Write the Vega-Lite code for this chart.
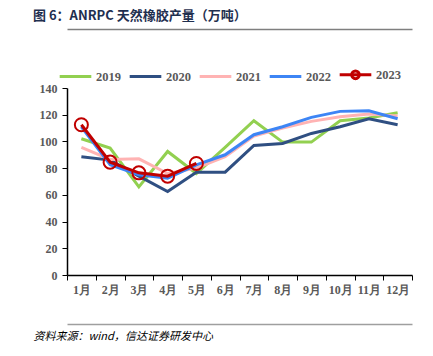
{
  "$schema": "https://vega.github.io/schema/vega-lite/v6.json",
  "width": 345,
  "height": 187,
  "autosize": {"type": "none"},
  "padding": {"left": 67, "top": 88, "right": 21, "bottom": 81},
  "background": "white",
  "title": {
    "text": "图 6：ANRPC 天然橡胶产量（万吨）",
    "anchor": "start",
    "frame": "group",
    "dx": -34,
    "offset": 6,
    "font": "Noto Sans CJK SC",
    "fontSize": 13,
    "fontWeight": "bold",
    "color": "#1F2F4F"
  },
  "config": {
    "view": {"stroke": null},
    "axis": {"grid": false, "labelFont": "Liberation Serif", "labelFontWeight": "bold", "labelFontSize": 12, "labelColor": "#595959", "labelOverlap": false}
  },
  "data": {
    "values": [
      {"m": "1月", "year": "2019", "v": 102},
      {"m": "2月", "year": "2019", "v": 95},
      {"m": "3月", "year": "2019", "v": 66},
      {"m": "4月", "year": "2019", "v": 92.5},
      {"m": "5月", "year": "2019", "v": 76},
      {"m": "6月", "year": "2019", "v": 95.5},
      {"m": "7月", "year": "2019", "v": 115.5},
      {"m": "8月", "year": "2019", "v": 99.5},
      {"m": "9月", "year": "2019", "v": 99.5},
      {"m": "10月", "year": "2019", "v": 115.5},
      {"m": "11月", "year": "2019", "v": 117.5},
      {"m": "12月", "year": "2019", "v": 121.5},
      {"m": "1月", "year": "2020", "v": 88.5},
      {"m": "2月", "year": "2020", "v": 86},
      {"m": "3月", "year": "2020", "v": 74},
      {"m": "4月", "year": "2020", "v": 62.5},
      {"m": "5月", "year": "2020", "v": 77},
      {"m": "6月", "year": "2020", "v": 77},
      {"m": "7月", "year": "2020", "v": 97},
      {"m": "8月", "year": "2020", "v": 98.5},
      {"m": "9月", "year": "2020", "v": 106},
      {"m": "10月", "year": "2020", "v": 111},
      {"m": "11月", "year": "2020", "v": 117},
      {"m": "12月", "year": "2020", "v": 112.5},
      {"m": "1月", "year": "2021", "v": 95.5},
      {"m": "2月", "year": "2021", "v": 86.5},
      {"m": "3月", "year": "2021", "v": 87},
      {"m": "4月", "year": "2021", "v": 76},
      {"m": "5月", "year": "2021", "v": 80},
      {"m": "6月", "year": "2021", "v": 88.5},
      {"m": "7月", "year": "2021", "v": 104},
      {"m": "8月", "year": "2021", "v": 110},
      {"m": "9月", "year": "2021", "v": 115},
      {"m": "10月", "year": "2021", "v": 118.5},
      {"m": "11月", "year": "2021", "v": 120.5},
      {"m": "12月", "year": "2021", "v": 119},
      {"m": "1月", "year": "2022", "v": 111},
      {"m": "2月", "year": "2022", "v": 82.5},
      {"m": "3月", "year": "2022", "v": 75},
      {"m": "4月", "year": "2022", "v": 72.5},
      {"m": "5月", "year": "2022", "v": 82.5},
      {"m": "6月", "year": "2022", "v": 90},
      {"m": "7月", "year": "2022", "v": 105},
      {"m": "8月", "year": "2022", "v": 111},
      {"m": "9月", "year": "2022", "v": 118},
      {"m": "10月", "year": "2022", "v": 122.5},
      {"m": "11月", "year": "2022", "v": 123},
      {"m": "12月", "year": "2022", "v": 117},
      {"m": "1月", "year": "2023", "v": 112.5},
      {"m": "2月", "year": "2023", "v": 84.5},
      {"m": "3月", "year": "2023", "v": 76.5},
      {"m": "4月", "year": "2023", "v": 74},
      {"m": "5月", "year": "2023", "v": 83.5}
    ]
  },
  "resolve": {"axis": {"x": "independent"}},
  "layer": [
    {
      "mark": {"type": "line", "strokeWidth": 3},
      "encoding": {
        "x": {
          "field": "m", "type": "nominal", "sort": null, "bandPosition": 0.5,
          "scale": {"type": "band", "paddingInner": 0, "paddingOuter": 0},
          "axis": {"orient": "bottom", "title": null, "labelAngle": 0, "tickBand": "extent", "domainColor": "#000000", "tickColor": "#000000", "tickSize": 5, "domainWidth": 1.5, "labelPadding": 4, "labelFont": "Liberation Serif"}
        },
        "y": {
          "field": "v", "type": "quantitative",
          "scale": {"domain": [0, 140]},
          "axis": {"title": null, "values": [0, 20, 40, 60, 80, 100, 120, 140], "domainColor": "#000000", "tickColor": "#000000", "tickSize": 5, "domainWidth": 1.5, "labelPadding": 5}
        },
        "color": {
          "field": "year", "type": "nominal",
          "scale": {"domain": ["2019", "2020", "2021", "2022", "2023"], "range": ["#92D050", "#2F4F82", "#FFB3B3", "#3D85F5", "#C00000"]},
          "legend": {
            "title": null, "orient": "none", "direction": "horizontal", "legendX": -9, "legendY": -31,
            "symbolSize": 1000, "symbolStrokeWidth": 3, "labelOffset": 3, "columnPadding": 2,
            "labelFont": "Liberation Serif", "labelFontWeight": "bold", "labelFontSize": 12.5, "labelColor": "#595959",
            "encode": {"symbols": {"update": {"shape": {"signal": "datum.value === '2023' ? 'M-1,0H1M-0.24,0A0.24,0.24 0 1,1 0.24,0A0.24,0.24 0 1,1 -0.24,0' : 'stroke'"}, "fill": {"value": "transparent"}}}}
          }
        }
      }
    },
    {
      "transform": [{"filter": "datum.year === '2023'"}],
      "mark": {"type": "point", "shape": "circle", "size": 170, "strokeWidth": 2, "filled": false, "color": "#C00000", "opacity": 1},
      "encoding": {
        "x": {
          "field": "m", "type": "nominal", "sort": null, "bandPosition": 0.5,
          "axis": {"orient": "top", "offset": 59, "title": null, "labels": false, "ticks": false, "domainColor": "#7F7F7F", "domainWidth": 1.5}
        },
        "y": {
          "field": "v", "type": "quantitative",
          "axis": {"title": null, "values": [0, 20, 40, 60, 80, 100, 120, 140], "domainColor": "#000000", "tickColor": "#000000", "tickSize": 5, "domainWidth": 1.5, "labelPadding": 5}
        }
      }
    },
    {
      "transform": [{"filter": "datum.year === '2023'"}],
      "mark": {"type": "point", "opacity": 0},
      "encoding": {
        "x": {
          "field": "m", "type": "nominal", "sort": null, "bandPosition": 0.5,
          "axis": {"orient": "bottom", "offset": 49, "labels": false, "ticks": false, "domainColor": "#9F9F9F", "domainWidth": 1.5,
            "title": "资料来源：wind，信达证券研发中心", "titleAnchor": "start", "titleAlign": "left", "titleX": -34, "titleY": 12, "titleBaseline": "middle",
            "titleFont": "Noto Sans CJK SC", "titleFontSize": 11, "titleFontWeight": "normal", "titleFontStyle": "italic", "titleColor": "#000000"}
        },
        "y": {
          "field": "v", "type": "quantitative",
          "axis": {"title": null, "values": [0, 20, 40, 60, 80, 100, 120, 140], "domainColor": "#000000", "tickColor": "#000000", "tickSize": 5, "domainWidth": 1.5, "labelPadding": 5}
        }
      }
    }
  ]
}
